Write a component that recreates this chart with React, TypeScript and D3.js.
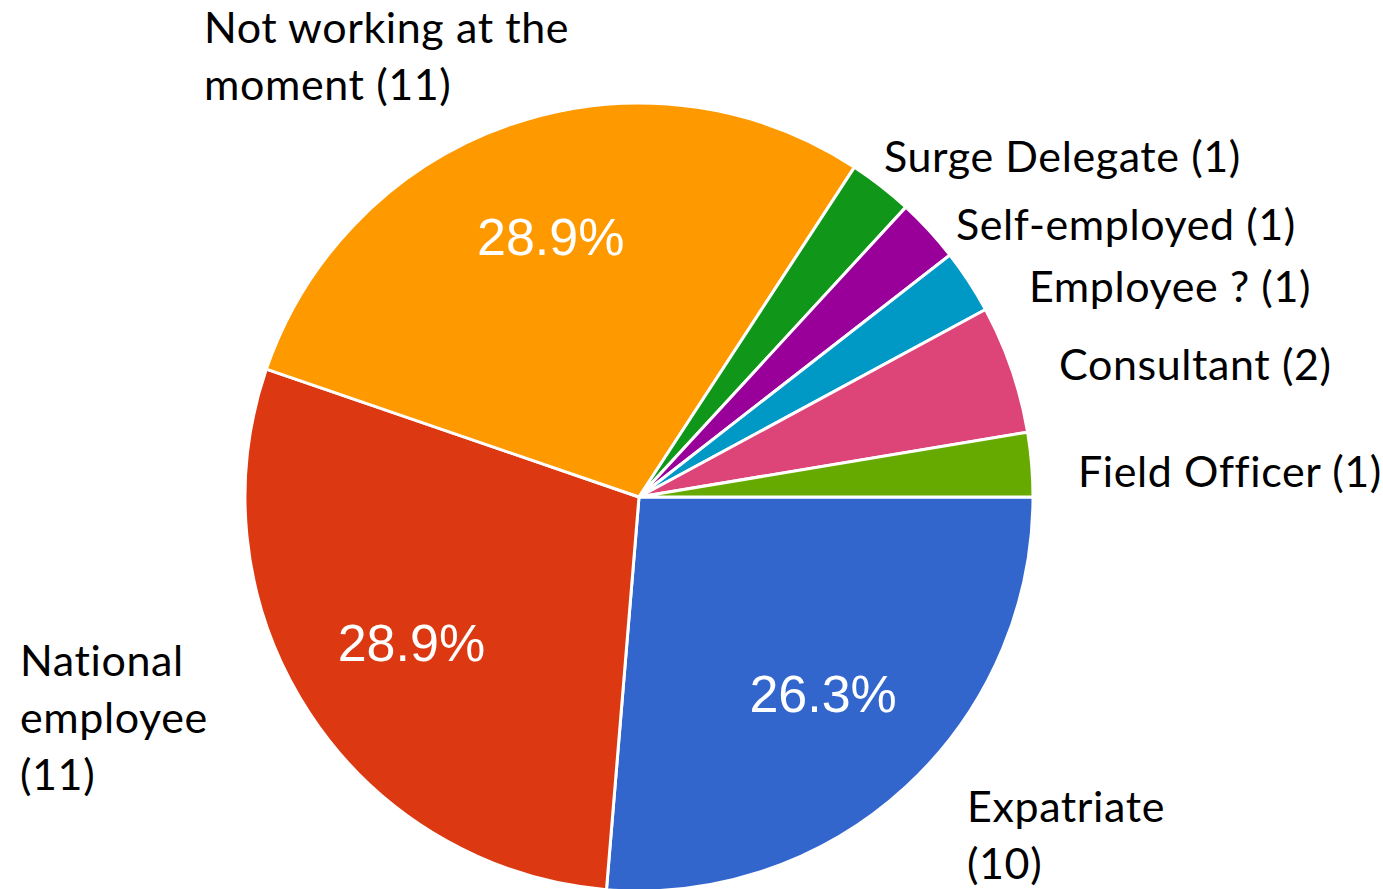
import { useEffect, useRef } from 'react';
import * as d3 from 'd3';

// Survey answers, in drawing order (clockwise from 3 o'clock)
const categories = [
  'Expatriate',
  'National employee',
  'Not working at the moment',
  'Surge Delegate',
  'Self-employed',
  'Employee ?',
  'Consultant',
  'Field Officer',
];
const counts = [10, 11, 11, 1, 1, 1, 2, 1];
const colors = ['#3366cc', '#dc3912', '#ff9900', '#109618', '#990099', '#0099c6', '#dd4477', '#66aa00'];

// outside label text lines (category name wrapped as on the slide)
const labelLines: string[][] = [
  ['Expatriate', '(10)'],
  ['National', 'employee', '(11)'],
  ['Not working at the', 'moment (11)'],
  ['Surge Delegate (1)'],
  ['Self-employed (1)'],
  ['Employee ? (1)'],
  ['Consultant (2)'],
  ['Field Officer (1)'],
];

// label placement (left x, first baseline y) relative to the pie centre
const labelPos: [number, number][] = [
  [328, 325],
  [-619, 179],
  [-435, -454],
  [245, -325],
  [317, -257],
  [390, -195],
  [420, -117],
  [439, -10],
];

const App = () => {
  const svgRef = useRef<SVGSVGElement | null>(null);

  useEffect(() => {
    if (!svgRef.current) return;
    d3.select(svgRef.current).selectAll('*').remove();

    const width = 1383;
    const height = 889;
    const cx = 639;
    const cy = 497;
    const radius = 394;

    const svg = d3.select(svgRef.current)
      .attr('width', width)
      .attr('height', height);

    const g = svg.append('g').attr('transform', `translate(${cx},${cy})`);

    const pie = d3.pie<number>()
      .sort(null)
      .startAngle(Math.PI / 2)
      .endAngle(Math.PI / 2 + 2 * Math.PI);
    const arcs = pie(counts);
    const total = d3.sum(counts);

    const arc = d3.arc<d3.PieArcDatum<number>>()
      .innerRadius(0)
      .outerRadius(radius);
    const labelArc = d3.arc<d3.PieArcDatum<number>>()
      .innerRadius(radius * 0.69)
      .outerRadius(radius * 0.69);

    g.selectAll('path.slice')
      .data(arcs)
      .enter()
      .append('path')
      .attr('class', 'slice')
      .attr('d', arc as any)
      .attr('fill', (_d, i) => colors[i])
      .attr('stroke', '#fff')
      .attr('stroke-width', 3)
      .attr('stroke-linejoin', 'round');

    // percentages inside the big slices only
    g.selectAll('text.pct')
      .data(arcs.filter((d) => d.value / total > 0.1))
      .enter()
      .append('text')
      .attr('class', 'pct')
      .attr('transform', (d) => {
        const [x, y] = labelArc.centroid(d);
        return `translate(${x},${y - 3})`;
      })
      .attr('text-anchor', 'middle')
      .attr('dominant-baseline', 'central')
      .attr('font-family', '"Liberation Sans", Arial, sans-serif')
      .attr('font-size', 52)
      .attr('fill', '#fff')
      .text((d) => `${((d.value / total) * 100).toFixed(1)}%`);

    // category labels around the pie
    categories.forEach((_c, i) => {
      const [lx, ly] = labelPos[i];
      const t = g.append('text')
        .attr('x', lx)
        .attr('y', ly)
        .attr('font-family', 'Lato, "Open Sans", sans-serif')
        .attr('font-size', 43)
        .attr('letter-spacing', 0.6)
        .attr('fill', '#000');
      labelLines[i].forEach((line, j) => {
        t.append('tspan')
          .attr('x', lx)
          .attr('dy', j === 0 ? 0 : 57)
          .text(line);
      });
    });
  }, []);

  return (
    <div style={{ position: 'absolute', left: 0, top: 0, background: '#fff' }}>
      <svg ref={svgRef} style={{ display: 'block' }}></svg>
    </div>
  );
};

export default App;
